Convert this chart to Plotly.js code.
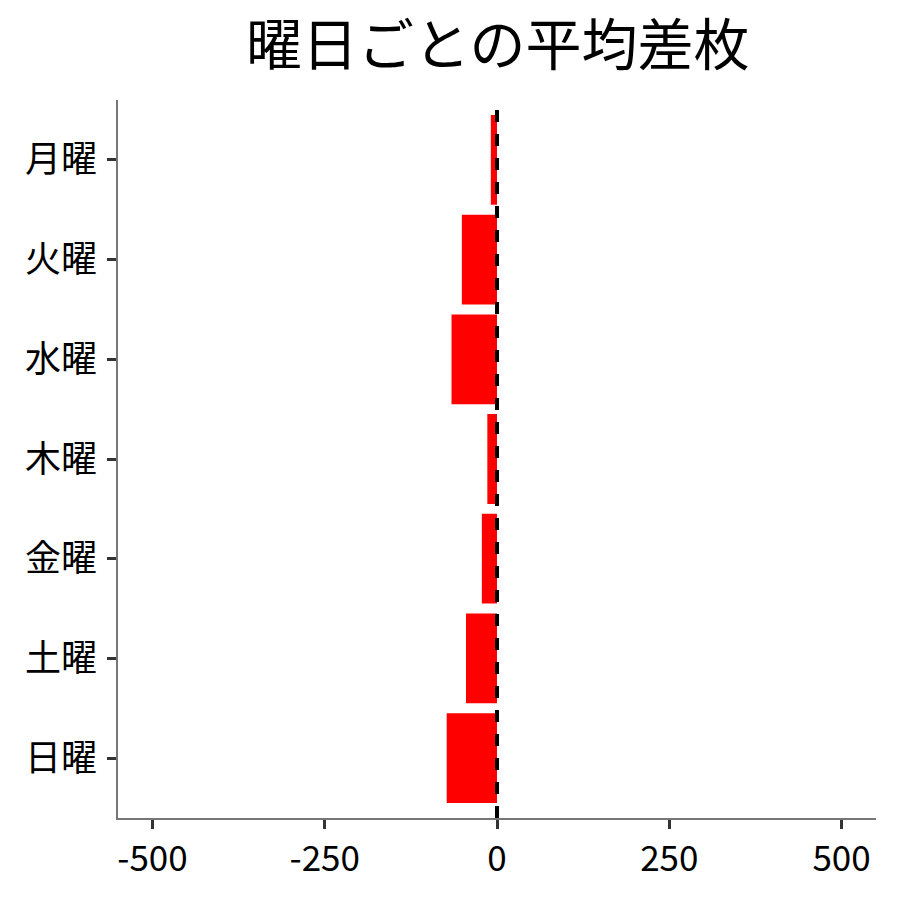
<!DOCTYPE html>
<html>
<head>
<meta charset="utf-8">
<script src="https://cdn.plot.ly/plotly-3.0.1.min.js"></script>
<style>html,body{margin:0;padding:0;background:#fff;}#chart{width:900px;height:900px;}</style>
</head>
<body>
<div id="chart"></div>
<script>
const days = ["月曜","火曜","水曜","木曜","金曜","土曜","日曜"];
const avgDiff = [-9, -51, -66, -14, -22, -45, -73];
const xTicks = [-500, -250, 0, 250, 500];
const xTickText = ["-500", "-250", "0", "250", "500"];
const titleText = "曜日ごとの平均差枚";

const font = "Noto Sans CJK JP, Noto Sans, sans-serif";

Plotly.newPlot("chart", [{
  type: "bar",
  orientation: "h",
  x: avgDiff,
  y: days,
  width: 0.9,
  marker: {color: "#ff0000", line: {width: 0}},
  hoverinfo: "x+y"
}], {
  width: 900, height: 900,
  paper_bgcolor: "#fff", plot_bgcolor: "#fff",
  margin: {l: 118, r: 24, t: 100, b: 82},
  font: {family: font, color: "#000"},
  title: {text: titleText, font: {family: font, size: 56, color: "#000"}, x: 0.553, xanchor: "center", y: 0.95, yanchor: "middle"},
  showlegend: false,
  bargap: 0.1,
  xaxis: {
    range: [-550, 550],
    tickvals: xTicks, ticktext: xTickText,
    showgrid: false, zeroline: false,
    showline: true, linecolor: "#777", linewidth: 1.5,
    ticks: "outside", ticklen: 9, tickwidth: 3, tickcolor: "#333",
    tickfont: {family: font, size: 35, color: "#000"}
  },
  yaxis: {
    categoryorder: "array", categoryarray: days.slice().reverse(),
    range: [-0.6, 6.6],
    showgrid: false, zeroline: false,
    showline: true, linecolor: "#777", linewidth: 1.5,
    ticks: "outside", ticklen: 9, tickwidth: 3, tickcolor: "#333",
    ticklabelstandoff: 3,
    tickfont: {family: font, size: 36, color: "#000"}
  },
  shapes: [{
    type: "line", xref: "x", yref: "paper",
    x0: 0, x1: 0, y0: 0, y1: 1,
    line: {color: "#000", width: 4, dash: "dash"}
  }]
}, {displayModeBar: false});
</script>
</body>
</html>
